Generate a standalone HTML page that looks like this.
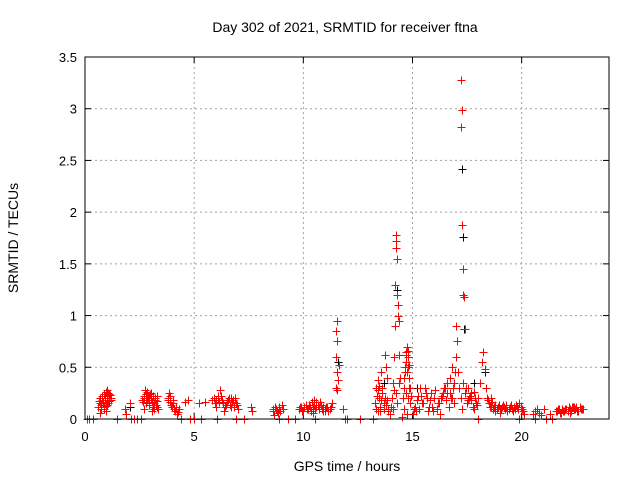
<!DOCTYPE html>
<html><head><meta charset="utf-8"><style>
body{margin:0;background:#fff;}
svg{display:block;font-family:"Liberation Sans",sans-serif;}
</style></head><body>
<svg id="chart" width="640" height="480">
<text x="345" y="32" text-anchor="middle" font-size="14">Day 302 of 2021, SRMTID for receiver ftna</text>
<text x="347" y="471" text-anchor="middle" font-size="14">GPS time / hours</text>
<text transform="translate(18,238) rotate(-90)" text-anchor="middle" font-size="14">SRMTID / TECUs</text>
<g id="grid"></g><g id="axes"></g><g id="marks" shape-rendering="crispEdges"></g>
<rect x="85" y="57" width="524" height="362" fill="none" stroke="#000" stroke-width="1"/>
</svg>
<script>
const xTicks=[0,5,10,15,20];
const yTicks=[0,0.5,1,1.5,2,2.5,3,3.5];
const yTickLabels=["0","0.5","1","1.5","2","2.5","3","3.5"];
const redTimes=[0.1,0.2,0.35,0.65,0.7,0.75,0.8,0.85,0.9,0.95,1.0,1.0,1.05,1.1,1.15,1.2,1.45,1.85,1.9,2.05,2.1,2.25,2.4,2.55,
2.6,2.7,2.75,2.8,2.85,2.9,2.95,3.0,3.05,3.1,3.2,3.25,3.3,3.35,
3.8,3.85,3.9,4.0,4.05,4.1,4.2,4.3,4.4,4.6,4.7,4.8,5.0,5.2,5.3,5.5,5.8,5.9,6.0,6.05,6.1,6.2,6.3,6.35,6.5,6.6,6.7,6.8,6.9,6.9,7.0,7.3,
7.6,7.65,8.6,8.65,8.7,8.8,8.9,8.9,9.0,9.3,9.6,
9.8,9.9,10.0,10.1,10.2,10.3,10.4,10.45,10.5,10.55,10.6,10.7,10.8,10.9,11.0,11.1,11.2,11.3,
11.5,11.55,11.5,11.55,11.5,11.55,11.6,11.65,11.55,11.8,11.9,12.0,12.6,13.2,
13.3,13.35,13.4,13.45,13.5,13.55,13.6,13.7,13.75,13.8,13.85,13.9,13.95,13.4,
14.1,14.15,14.2,14.2,14.25,14.25,14.25,14.3,14.3,14.35,14.35,14.4,14.4,14.25,14.3,
14.6,14.65,14.7,14.75,14.8,14.85,14.7,14.8,14.9,14.6,14.75,14.5,14.72,14.78,14.68,
15.0,15.1,15.2,15.3,15.4,15.5,15.6,15.7,15.8,15.9,16.0,16.1,16.2,16.3,16.4,16.5,16.6,16.7,16.8,16.9,15.35,16.55,16.25,
17.0,17.05,17.0,17.1,17.15,17.2,17.3,17.4,17.5,17.6,17.7,17.8,17.9,17.25,17.45,
17.2,17.25,17.2,17.25,17.3,17.3,17.35,17.4,
18.0,18.1,18.2,18.25,18.3,18.35,18.4,18.5,18.6,18.7,18.8,18.9,19.0,19.2,19.4,19.6,19.8,19.9,20.0,20.1,18.0,19.9,20.6,21.1,21.4,
20.5,20.6,20.7,20.8,20.9,21.0,21.3,21.6,21.7,21.8,21.9,22.0,22.1,22.2,22.3,22.4,22.5,22.6,22.7,22.8,
0.6,0.68,0.72,0.78,0.82,0.88,0.92,0.98,1.02,1.08,1.12,1.18,0.7,0.86,0.96,1.06,
2.65,2.72,2.78,2.82,2.88,2.92,2.98,3.02,3.08,3.12,3.18,3.22,3.28,3.32,2.68,2.8,2.95,3.15,
3.82,3.88,3.95,4.02,4.08,4.15,4.25,
5.95,6.02,6.08,6.15,6.22,6.28,6.4,6.45,6.55,6.62,6.68,6.75,6.82,6.88,6.95,
8.62,8.68,8.75,8.82,8.88,8.95,9.05,
9.85,9.95,10.05,10.15,10.25,10.35,10.42,10.48,10.52,10.58,10.65,10.72,10.78,10.85,10.92,10.98,11.05,11.15,11.25,
13.32,13.38,13.42,13.48,13.52,13.58,13.62,13.68,13.72,13.78,13.82,13.88,14.0,14.05,14.1,14.15,14.4,14.45,
14.55,14.62,14.66,14.7,14.74,14.78,14.82,14.86,14.9,14.95,
15.05,15.15,15.25,15.45,15.55,15.65,15.75,15.85,15.95,16.05,16.15,16.35,16.45,16.6,16.65,16.75,16.85,16.95,16.7,16.8,16.9,
17.55,17.65,17.75,17.85,17.95,17.52,17.68,17.82,
18.45,18.55,18.65,18.75,18.85,18.95,19.05,19.1,19.15,19.25,19.3,19.35,19.45,19.5,19.55,19.65,19.7,19.75,19.85,19.95,20.05,18.6,18.8,19.0,19.3,
21.55,21.65,21.75,21.85,21.95,22.05,22.15,22.25,22.35,22.45,22.55,22.65,22.75,22.2,22.4];
const redValues=[0,0,0,0.17,0.15,0.1,0.18,0.12,0.2,0.08,0.22,0.28,0.25,0.17,0.23,0.2,0,0.1,0.05,0.15,0,0,0,0,
0.18,0.22,0.28,0.15,0.26,0.2,0.18,0.25,0.08,0.12,0.18,0.14,0.22,0.1,
0.18,0.25,0.22,0.12,0.15,0.08,0.05,0.1,0,0.16,0.18,0,0,0.15,0,0.16,0.18,0.2,0.12,0,0.22,0.28,0.15,0.08,0.16,0.2,0.12,0.18,0.15,0,0.1,0,
0.12,0.08,0.1,0.04,0.12,0.08,0.1,0,0.14,0,0,
0.1,0.12,0.08,0.14,0.1,0.12,0.16,0.06,0.18,0,0.12,0.1,0.14,0.08,0.1,0.12,0.1,0.15,
0.3,0.45,0.6,0.75,0.85,0.95,0.38,0.52,0.28,0.1,0,0,0,0,
0.15,0.3,0.38,0.2,0.12,0.45,0.25,0.15,0.62,0.5,0.18,0.1,0.05,0.08,
0.35,0.6,0.9,1.3,1.65,1.72,1.78,1.55,1.2,1.1,1.0,0.95,0.62,0.25,0.15,
0.3,0.45,0.55,0.7,0.6,0.4,0.25,0.2,0.3,0.1,0.05,0.02,0.65,0.5,0.62,
0.05,0.12,0.18,0.1,0.22,0.15,0.25,0.08,0.18,0.12,0.2,0.1,0.15,0.2,0.25,0.3,0.35,0.4,0.5,0.35,0.3,0.18,0.05,
0.6,0.75,0.9,0.45,0.3,0.2,0.35,0.25,0.15,0.2,0.25,0.1,0.15,0.1,0.3,
3.28,2.99,2.82,1.88,1.45,1.2,1.18,0.87,
0.2,0.35,0.55,0.65,0.48,0.3,0.2,0.15,0.12,0.1,0.14,0.12,0.1,0.12,0.1,0.08,0.12,0.15,0.1,0.05,0,0,0,0,0,
0.05,0.08,0.1,0.06,0.04,0.1,0.05,0.08,0.1,0.06,0.08,0.1,0.08,0.1,0.12,0.1,0.12,0.08,0.1,0.1,
0.12,0.2,0.14,0.22,0.16,0.24,0.18,0.26,0.14,0.2,0.24,0.18,0.06,0.1,0.13,0.15,
0.16,0.2,0.24,0.18,0.22,0.14,0.24,0.2,0.16,0.22,0.15,0.2,0.12,0.17,0.1,0.2,0.22,0.1,
0.2,0.16,0.14,0.18,0.1,0.12,0.07,
0.15,0.18,0.2,0.16,0.22,0.18,0.12,0.14,0.18,0.14,0.2,0.16,0.12,0.2,0.14,
0.08,0.12,0.1,0.06,0.12,0.08,0.1,
0.12,0.08,0.12,0.1,0.14,0.08,0.12,0.14,0.1,0.16,0.14,0.12,0.16,0.1,0.12,0.08,0.12,0.08,0.12,
0.1,0.22,0.28,0.32,0.08,0.18,0.3,0.1,0.2,0.14,0.4,0.08,0.12,0.2,0.1,0.28,0.35,0.4,
0.2,0.4,0.5,0.62,0.45,0.66,0.52,0.3,0.15,0.22,
0.1,0.08,0.22,0.15,0.3,0.2,0.12,0.25,0.08,0.28,0.15,0.22,0.3,0.25,0.12,0.2,0.3,0.45,0.25,0.2,0.15,
0.18,0.22,0.12,0.2,0.14,0.3,0.18,0.26,
0.18,0.12,0.16,0.12,0.1,0.14,0.1,0.12,0.14,0.1,0.12,0.08,0.12,0.14,0.1,0.12,0.1,0.14,0.1,0.12,0.08,0.2,0.08,0.06,0.14,
0.08,0.1,0.06,0.1,0.08,0.1,0.12,0.08,0.12,0.1,0.08,0.12,0.1,0.06,0.12];
const blackTimes=[2.05,3.9,11.6,13.7,14.2,14.3,17.25,17.3,17.35,17.8,18.3,15.2];
const blackValues=[0.12,0.22,0.55,0.35,0.9,1.25,2.42,1.76,0.87,0.35,0.45,0.3];
const X0=85,X1=609,Y0=419,Y1=57,XMAX=24,YMAX=3.5;
const sx=v=>X0+(X1-X0)*v/XMAX, sy=v=>Y0-(Y0-Y1)*v/YMAX;
const NS="http://www.w3.org/2000/svg";
function mk(tag,attrs,parent){const e=document.createElementNS(NS,tag);for(const k in attrs)e.setAttribute(k,attrs[k]);parent.appendChild(e);return e;}
const grid=document.getElementById('grid'),axes=document.getElementById('axes'),marks=document.getElementById('marks');
xTicks.forEach((t,i)=>{const x=sx(t);
 if(i>0){const g=mk('line',{x1:x,x2:x,y1:Y1,y2:Y0,stroke:'#a0a0a0','stroke-dasharray':'2,3'},grid);
 
 }
 mk('line',{x1:x,x2:x,y1:Y0,y2:Y0-6,stroke:'#000'},axes);
 mk('line',{x1:x,x2:x,y1:Y1,y2:Y1+6,stroke:'#000'},axes);
 const l=mk('text',{x:x,y:Y0+22,'text-anchor':'middle','font-size':'13'},axes);l.textContent=String(t);
 
 });
yTicks.forEach((t,i)=>{const y=sy(t);
 if(i>0&&i<yTicks.length-1){const g=mk('line',{x1:X0,x2:X1,y1:y,y2:y,stroke:'#a0a0a0','stroke-dasharray':'2,3'},grid);
 
 }
 mk('line',{x1:X0,x2:X0+6,y1:y,y2:y,stroke:'#000'},axes);
 mk('line',{x1:X1,x2:X1-6,y1:y,y2:y,stroke:'#000'},axes);
 const l=mk('text',{x:X0-8,y:y+5,'text-anchor':'end','font-size':'13'},axes);l.textContent=yTickLabels[i];
 
 });
function plus(t,v,c,name){const x=Math.round(sx(t))+0.5,y=Math.round(sy(v))+0.5;
 const p=mk('path',{d:`M${x-4},${y}H${x+4}M${x},${y-4}V${y+4}`,stroke:c,'stroke-width':'1',fill:'none'},marks);
 
 }
blackTimes.forEach((t,i)=>plus(t,blackValues[i],'#000','black-point'));
redTimes.forEach((t,i)=>plus(t,redValues[i],'#ff0000','red-point'));
</script>
</body></html>
